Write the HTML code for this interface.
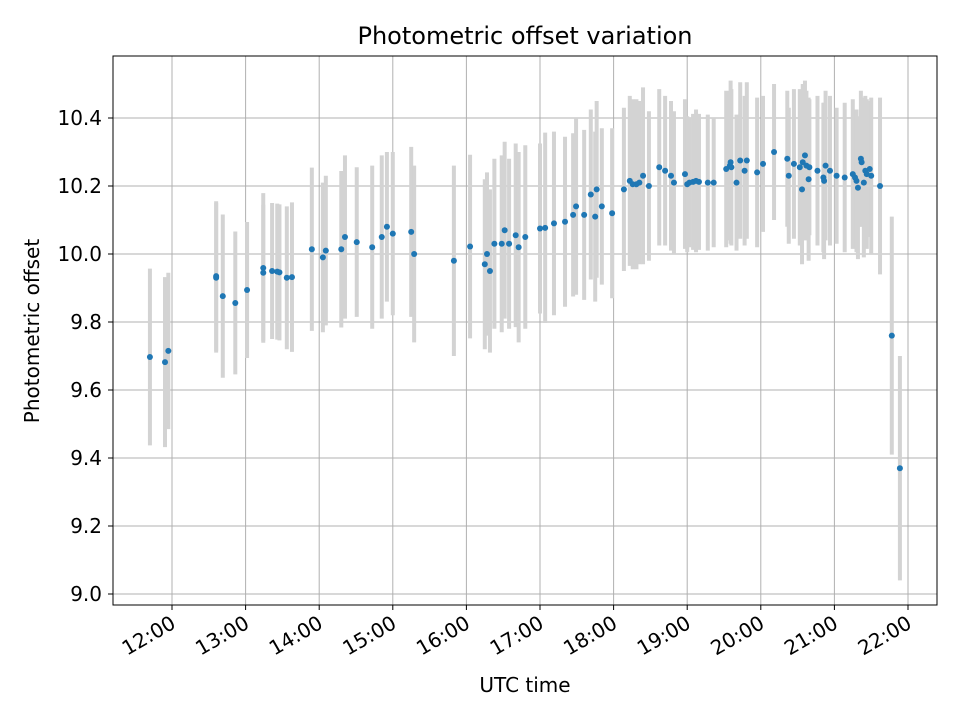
<!DOCTYPE html>
<html><head><meta charset="utf-8"><style>
body{margin:0;background:#fff;font-family:"Liberation Sans","DejaVu Sans",sans-serif}
svg text{font-family:"DejaVu Sans","Liberation Sans",sans-serif;fill:#000}
</style></head><body>
<svg id="chart" width="960" height="720" viewBox="0 0 960 720" xmlns="http://www.w3.org/2000/svg">
<rect width="960" height="720" fill="#fff"/>
<g id="grid"></g>
<g id="errs"></g>
<g id="pts"></g>
<rect x="113" y="56" width="824" height="549" fill="none" stroke="#000" stroke-width="1"/>
<g id="axes"></g>
<text x="525" y="44" font-size="24" text-anchor="middle">Photometric offset variation</text>
<text x="525" y="692" font-size="20" text-anchor="middle">UTC time</text>
<text transform="translate(39,331) rotate(-90)" font-size="20" text-anchor="middle">Photometric offset</text>
</svg>
<script>
const times=[11.70,11.905,11.95,12.60,12.60,12.69,12.86,13.02,13.24,13.24,13.36,13.43,13.46,13.56,13.63,13.90,14.05,14.09,14.30,14.35,14.51,14.72,14.85,14.92,15.00,15.25,15.29,15.83,16.05,16.25,16.28,16.32,16.38,16.48,16.52,16.58,16.67,16.71,16.80,17.00,17.07,17.19,17.34,17.45,17.49,17.60,17.69,17.75,17.77,17.84,17.98,18.14,18.22,18.26,18.31,18.35,18.40,18.48,18.62,18.70,18.78,18.82,18.97,19.00,19.03,19.08,19.12,19.16,19.28,19.36,19.53,19.58,19.60,19.59,19.67,19.72,19.81,19.78,19.95,20.03,20.18,20.36,20.38,20.45,20.53,20.57,20.60,20.62,20.66,20.56,20.65,20.77,20.85,20.86,20.88,20.94,21.03,21.14,21.25,21.28,21.30,21.32,21.36,21.37,21.40,21.42,21.44,21.48,21.50,21.62,21.78,21.89];
const values=[9.697,9.682,9.715,9.93,9.935,9.876,9.856,9.894,9.959,9.945,9.95,9.948,9.946,9.93,9.932,10.014,9.99,10.01,10.014,10.05,10.035,10.02,10.05,10.08,10.06,10.065,10.0,9.98,10.022,9.97,10.0,9.95,10.03,10.03,10.07,10.03,10.055,10.02,10.05,10.075,10.077,10.09,10.095,10.115,10.14,10.115,10.175,10.11,10.19,10.14,10.12,10.19,10.215,10.205,10.205,10.21,10.23,10.2,10.255,10.245,10.23,10.21,10.235,10.205,10.21,10.212,10.215,10.212,10.21,10.21,10.25,10.26,10.255,10.27,10.21,10.275,10.275,10.245,10.24,10.265,10.30,10.28,10.23,10.265,10.255,10.27,10.29,10.26,10.255,10.19,10.22,10.245,10.225,10.215,10.26,10.245,10.23,10.225,10.235,10.225,10.215,10.195,10.28,10.27,10.21,10.245,10.235,10.25,10.23,10.2,9.76,9.37];
const errors=[0.26,0.25,0.23,0.22,0.22,0.24,0.21,0.20,0.22,0.2,0.2,0.2,0.2,0.21,0.22,0.24,0.22,0.22,0.23,0.24,0.22,0.24,0.24,0.22,0.24,0.25,0.26,0.28,0.27,0.25,0.24,0.24,0.25,0.26,0.26,0.25,0.27,0.28,0.27,0.25,0.28,0.27,0.25,0.24,0.26,0.25,0.25,0.25,0.26,0.23,0.25,0.24,0.25,0.25,0.25,0.24,0.26,0.22,0.23,0.22,0.22,0.21,0.22,0.2,0.19,0.2,0.21,0.2,0.2,0.19,0.23,0.22,0.23,0.24,0.2,0.23,0.23,0.22,0.22,0.2,0.2,0.2,0.2,0.22,0.23,0.23,0.22,0.22,0.2,0.22,0.24,0.22,0.22,0.23,0.22,0.22,0.2,0.22,0.22,0.2,0.21,0.21,0.2,0.19,0.22,0.22,0.22,0.2,0.23,0.26,0.35,0.33];
const yTicks=[9.0,9.2,9.4,9.6,9.8,10.0,10.2,10.4];
const xTickHours=[12,13,14,15,16,17,18,19,20,21,22];
const xTickLabels=["12:00","13:00","14:00","15:00","16:00","17:00","18:00","19:00","20:00","21:00","22:00"];

const X=h=>172+(h-12)*73.6;
const Y=v=>254-(v-10)*340;
const NS="http://www.w3.org/2000/svg";
function mk(tag,parent,attrs){const e=document.createElementNS(NS,tag);for(const k in attrs)e.setAttribute(k,attrs[k]);parent.appendChild(e);return e;}
const grid=document.getElementById('grid'),axes=document.getElementById('axes'),errs=document.getElementById('errs'),pts=document.getElementById('pts');
yTicks.forEach(v=>{
 const y=Y(v);
 const g=mk('line',grid,{x1:113,x2:937,y1:y,y2:y,stroke:'#b0b0b0','stroke-width':1});
 
 
 const t=mk('line',axes,{x1:108,x2:113,y1:y,y2:y,stroke:'#000'});
 
 
 const l=mk('text',axes,{x:102,y:y+7,'font-size':20,'text-anchor':'end'});
 
 
 l.textContent=v.toFixed(1);
});
xTickHours.forEach((h,i)=>{
 const x=X(h);
 const g=mk('line',grid,{x1:x,x2:x,y1:56,y2:605,stroke:'#b0b0b0','stroke-width':1});
 
 
 const t=mk('line',axes,{x1:x,x2:x,y1:605,y2:610,stroke:'#000'});
 
 
 const l=mk('text',axes,{transform:`translate(${x+5},${627}) rotate(-30)`,'font-size':20,'text-anchor':'end'});
 
 
 l.textContent=xTickLabels[i];
});
times.forEach((h,i)=>{
 const x=X(h);
 const b=mk('line',errs,{x1:x,x2:x,y1:Y(values[i]+errors[i]),y2:Y(values[i]-errors[i]),stroke:'#d3d3d3','stroke-width':4});
 
 
});
times.forEach((h,i)=>{
 const c=mk('circle',pts,{cx:X(h),cy:Y(values[i]),r:3,fill:'#1f77b4'});
 
 
});
</script>
</body></html>
